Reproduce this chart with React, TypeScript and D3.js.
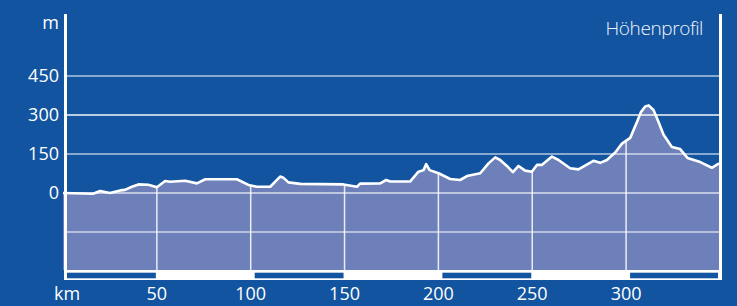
import React from 'react';
import * as d3 from 'd3';

// profile points: distance (km) and height (m)
const km = [
  0, 16, 19.8, 25, 30.5, 33, 36.7, 40.2, 45.5, 50, 54.4, 57.1, 65.1, 71.3, 75.8,
  92.6, 98.8, 103.3, 110.4, 115.7, 117.2, 120.1, 126.4, 149.4, 156.6, 158.3, 169,
  172.2, 174.3, 184.9, 189.4, 192.1, 193.5, 195.3, 200.1, 206.3, 211.6, 215.2,
  222.3, 226.7, 230.3, 232.9, 236.5, 239.7, 242.7, 246.2, 249.8, 252.5, 255.1,
  260.5, 264, 270.2, 274.6, 282.6, 286.2, 289.8, 294.2, 297.8, 302.2, 305.8,
  307.9, 310.2, 312, 314.6, 317.3, 319.9, 324.4, 328.8, 332.7, 339.5, 345.7, 349.5,
];
const height = [
  0, -3, 8, 0, 10, 12, 24, 33, 32, 22, 46, 43, 47, 37, 53,
  53, 31, 24, 24, 63, 60, 41, 35, 33, 24, 36, 37,
  50, 44, 44, 82, 88, 111, 88, 76, 54, 50, 65,
  76, 114, 137, 127, 104, 80, 104, 86, 82, 108, 108,
  140, 127, 95, 91, 124, 116, 127, 156, 190, 212, 273,
  311, 333, 337, 319, 273, 225, 177, 169, 135, 119, 97, 114,
];
const yTicks = [450, 300, 150, 0];
const xTicks = [50, 100, 150, 200, 250, 300];
const kmBands = [[0, 50], [100, 150], [200, 250], [300, 349.5]];

const W = 737;
const H = 306;
const BG = '#1254a0';
const FILL = '#6e80b9';
const FONT = '"Open Sans", "Noto Sans", sans-serif';

export default function App() {
  const x = d3.scaleLinear().domain([0, 349.5]).range([63, 719]);
  const y = d3.scaleLinear().domain([0, 450]).range([193, 76]);
  const bottom = 270;

  const pts = km.map((k, i) => [k, height[i]] as [number, number]);
  const area = d3.area<[number, number]>()
    .x(d => x(d[0]))
    .y0(bottom)
    .y1(d => y(d[1]));
  const line = d3.line<[number, number]>()
    .x(d => x(d[0]))
    .y(d => y(d[1]));

  const gridStyle = (v: number) => {
    if (v === 300) return { stroke: '#ffffff', width: 1.3, op: 0.95 };
    if (v === 0) return { stroke: '#ffffff', width: 1.5, op: 0.75 };
    return { stroke: '#ffffff', width: 2, op: 0.5 };
  };

  return (
    <svg width={W} height={H} style={{ position: 'absolute', left: 0, top: 0, display: 'block' }}>
      <defs>
        <clipPath id="areaClip">
          <path d={area(pts) || ''} />
        </clipPath>
      </defs>
      <rect width={W} height={H} fill={BG} />

      <path d={area(pts) || ''} fill={FILL} />

      {[...yTicks, -150].map(v => {
        const s = gridStyle(v);
        return (
          <line key={v} x1={66} x2={720} y1={y(v)} y2={y(v)}
            stroke={s.stroke} strokeWidth={s.width} strokeOpacity={s.op} />
        );
      })}

      <g clipPath="url(#areaClip)">
        {xTicks.map(t => (
          <line key={t} x1={x(t)} x2={x(t)} y1={0} y2={bottom}
            stroke="#ffffff" strokeWidth={1.5} strokeOpacity={0.85} />
        ))}
      </g>

      <path d={line(pts) || ''} fill="none" stroke="#ffffff" strokeWidth={2.6} strokeLinejoin="round" />

      {/* km bar */}
      <rect x={64} y={bottom} width={658} height={10} fill="#ffffff" />
      {kmBands.map(([a, b]) => (
        <rect key={a} x={x(a) + 4} y={272.7} width={x(b) - x(a) - 5} height={5.6} fill={BG} />
      ))}

      {/* axes */}
      <rect x={64} y={14} width={3} height={266} fill="#ffffff" />
      <rect x={719} y={14} width={3} height={266} fill="#ffffff" />

      {yTicks.map(v => (
        <text key={v} x={59} y={y(v)} dy="0.36em" textAnchor="end"
          fill="#ffffff" fontFamily={FONT} fontSize={18}>{v}</text>
      ))}
      <text x={59} y={25} dy="0.2em" textAnchor="end" fill="#ffffff" fontFamily={FONT} fontSize={18}>m</text>

      {xTicks.map(t => (
        <text key={t} x={x(t)} y={300} textAnchor="middle"
          fill="#ffffff" fontFamily={FONT} fontSize={18}>{t}</text>
      ))}
      <text x={67} y={300} textAnchor="middle" fill="#ffffff" fontFamily={FONT} fontSize={18}>km</text>

      <text x={703} y={35} textAnchor="end" fill="#f2f5fb" fontFamily={FONT}
        fontWeight={300} fontSize={19} letterSpacing={-0.4}>Höhenprofil</text>
    </svg>
  );
}
